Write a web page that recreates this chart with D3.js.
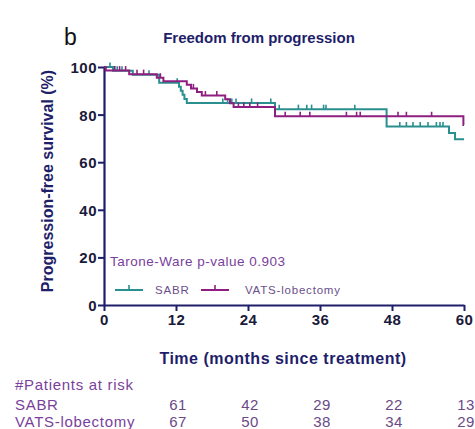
<!DOCTYPE html>
<html>
<head>
<meta charset="utf-8">
<script src="https://cdn.jsdelivr.net/npm/d3@7/dist/d3.min.js"></script>
<style>
  html, body { margin: 0; padding: 0; background: #fff; }
  svg { display: block; }
  svg text { font-family: "Liberation Sans", Arial, sans-serif; }
</style>
</head>
<body>
<svg id="chart" width="475" height="429"></svg>
<script>
// Kaplan-Meier steps: event times (months) and survival (%)
const sabrTimes = [0, 1.5, 4.8, 9.2, 12.5, 12.8, 13.1, 13.4, 13.8, 28.5, 47.1, 57.5, 58.5, 60];
const sabrSurv  = [100, 98.4, 96.7, 93.4, 91.7, 90.0, 88.3, 86.6, 84.9, 82.3, 75.0, 72.3, 69.6, 69.6];
const vatsTimes = [0, 0.3, 4.2, 8.8, 9.9, 13.8, 14.5, 15.5, 16.3, 20.2, 21.0, 21.6, 28.5, 59.9, 60];
const vatsSurv  = [100, 98.5, 97.0, 95.5, 94.0, 92.5, 91.0, 89.5, 88.0, 86.4, 84.8, 83.2, 79.3, 75.6, 75.6];

// Censored observations (months)
const sabrCensor = [1.0, 2.2, 3.0, 7.5, 12.2, 19.8, 20.6, 21.3, 22.0, 24.6, 27.8, 29.2, 32.4, 33.8, 34.6, 36.6, 37.0, 41.8, 49.3, 50.4, 51.5, 52.7, 54.0, 55.4, 56.0, 56.5];
const vatsCensor = [1.8, 2.6, 3.6, 5.5, 6.6, 9.4, 14.9, 16.9, 18.8, 22.4, 23.3, 24.3, 25.6, 30.2, 32.7, 34.3, 40.4, 42.1, 42.7, 49.0, 50.4, 54.6];

// Axis ticks
const xTicks = [0, 12, 24, 36, 48, 60];
const yTicks = [0, 20, 40, 60, 80, 100];

// Number at risk table
const riskTimes = [12, 24, 36, 48, 60];
const riskGroups = ["SABR", "VATS-lobectomy"];
const sabrRisk = [61, 42, 29, 22, 13];
const vatsRisk = [67, 50, 38, 34, 29];

const cSabr = "#2a8f8f";
const cVats = "#8e1f80";
const navy = "#1e1e6a";
const textPurple = "#7a3f9c";
const font = "'Liberation Sans', Arial, sans-serif";

const svg = d3.select("#chart");
const x = d3.scaleLinear().domain([0, 60]).range([104, 464]);
const y = d3.scaleLinear().domain([0, 100]).range([305, 67]);

// Panel letter and title
svg.append("text").attr("x", 64).attr("y", 45).attr("font-size", 23).attr("fill", "#111").text("b");
svg.append("text").attr("x", 259).attr("y", 43).attr("text-anchor", "middle")
  .attr("font-size", 15).attr("font-weight", "bold").attr("fill", navy).text("Freedom from progression");

// Axes
const xAxis = svg.append("g").attr("transform", "translate(0,305)")
  .call(d3.axisBottom(x).tickValues(xTicks).tickSize(6).tickPadding(3).tickSizeOuter(0));
const yAxis = svg.append("g").attr("transform", "translate(104,0)")
  .call(d3.axisLeft(y).tickValues(yTicks).tickSize(6).tickPadding(1).tickSizeOuter(0));
[xAxis, yAxis].forEach(g => {
  g.attr("font-family", font);
  g.select(".domain").attr("stroke", navy).attr("stroke-width", 2.2);
  g.selectAll(".tick line").attr("stroke", navy).attr("stroke-width", 2);
  g.selectAll(".tick text").attr("fill", "#1a1a3a").attr("font-size", 15)
    .attr("font-weight", "bold").attr("letter-spacing", 0.5);
});
yAxis.selectAll(".tick text").attr("dy", "0.36em");

// Axis titles
svg.append("text").attr("x", 283).attr("y", 364).attr("text-anchor", "middle")
  .attr("font-size", 16).attr("font-weight", "bold").attr("letter-spacing", 0.5)
  .attr("fill", navy).text("Time (months since treatment)");
svg.append("text").attr("transform", "translate(53,181) rotate(-90)").attr("text-anchor", "middle")
  .attr("font-size", 16).attr("font-weight", "bold").attr("fill", navy).text("Progression-free survival (%)");

// Survival curves
function stepAt(times, surv, t) {
  let v = surv[0];
  for (let i = 0; i < times.length; i++) if (times[i] <= t) v = surv[i];
  return v;
}
const line = d3.line().x(d => x(d[0])).y(d => y(d[1])).curve(d3.curveStepAfter);
const groups = [
  { times: sabrTimes, surv: sabrSurv, censor: sabrCensor, color: cSabr },
  { times: vatsTimes, surv: vatsSurv, censor: vatsCensor, color: cVats }
];
groups.forEach(gr => {
  svg.append("path").datum(d3.zip(gr.times, gr.surv))
    .attr("fill", "none").attr("stroke", gr.color).attr("stroke-width", 2).attr("d", line);
  svg.append("g").selectAll("line").data(gr.censor).join("line")
    .attr("x1", d => x(d)).attr("x2", d => x(d))
    .attr("y1", d => y(stepAt(gr.times, gr.surv, d)))
    .attr("y2", d => y(stepAt(gr.times, gr.surv, d)) - 4.5)
    .attr("stroke", gr.color).attr("stroke-width", 1.6);
});

// Test statistic
svg.append("text").attr("x", 110).attr("y", 266).attr("font-size", 13.5).attr("letter-spacing", 0.5)
  .attr("fill", textPurple).text("Tarone-Ware p-value 0.903");

// Legend
const legend = svg.append("g");
[{ name: "SABR", color: cSabr, x0: 115, tx: 155 }, { name: "VATS-lobectomy", color: cVats, x0: 201, tx: 245 }]
  .forEach(l => {
    legend.append("line").attr("x1", l.x0).attr("x2", l.x0 + 28).attr("y1", 290).attr("y2", 290)
      .attr("stroke", l.color).attr("stroke-width", 2);
    legend.append("line").attr("x1", l.x0 + 14).attr("x2", l.x0 + 14).attr("y1", 290).attr("y2", 285)
      .attr("stroke", l.color).attr("stroke-width", 1.6);
    legend.append("text").attr("x", l.tx).attr("y", 294).attr("font-size", 11.5).attr("letter-spacing", 0.8)
      .attr("fill", "#6a4f8a").text(l.name);
  });

// Number at risk
svg.append("text").attr("x", 15).attr("y", 390).attr("font-size", 15).attr("letter-spacing", 0.7)
  .attr("fill", textPurple).text("#Patients at risk");
const riskRows = [sabrRisk, vatsRisk];
riskRows.forEach((row, i) => {
  const yy = 410 + i * 17;
  svg.append("text").attr("x", 15).attr("y", yy).attr("font-size", 15).attr("letter-spacing", 0.7)
    .attr("fill", textPurple).text(riskGroups[i]);
  svg.append("g").selectAll("text").data(row).join("text")
    .attr("x", (d, j) => x(riskTimes[j]) + 2).attr("y", yy).attr("text-anchor", "middle")
    .attr("font-size", 15).attr("letter-spacing", 0.5).attr("fill", "#6a4a86").text(d => d);
});
</script>
</body>
</html>
